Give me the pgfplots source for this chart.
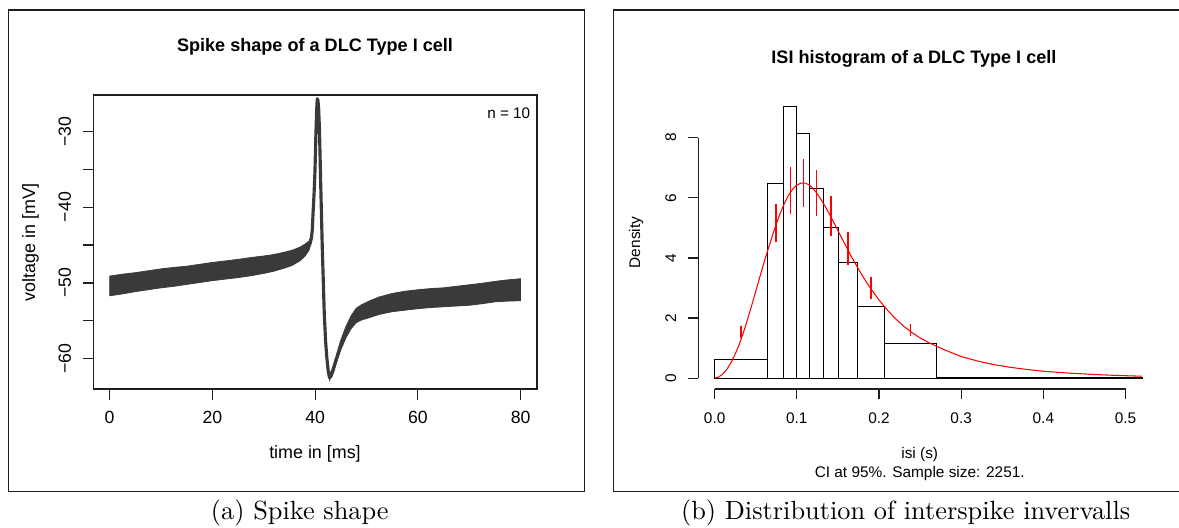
\documentclass[border=0pt]{standalone}
\usepackage{fontspec}
\usepackage{pgfplots}
\pgfplotsset{compat=1.18}
\newfontfamily\rf{Liberation Sans}
\definecolor{tr}{RGB}{58,58,58}
\definecolor{fr}{RGB}{30,30,30}
\begin{document}
\begin{tikzpicture}
\useasboundingbox (0,0) rectangle (448.02pt,200.64pt);
\draw[fr, line width=0.5pt] (3.15pt,13.83pt) rectangle (222.15pt,196.84pt);
\draw[fr, line width=0.5pt] (233.05pt,13.83pt) rectangle (449.5pt,196.84pt);

% ---------------- left panel ----------------
\begin{axis}[
  at={(35.42pt,52.82pt)}, anchor=south west, scale only axis,
  width=168.64pt, height=111.72pt,
  xmin=-3.2, xmax=83.2, ymin=-64.0, ymax=-25.2,
  axis line style={fr, line width=0.45pt},
  tick align=outside, major tick length=4pt,
  tick style={fr, line width=0.45pt},
  xtick pos=bottom, ytick pos=left,
  xtick={0,20,40,60,80}, xticklabels={0,20,40,60,80},
  ytick={-60,-55,-50,-45,-40,-35,-30}, yticklabels={−60,,−50,,−40,,−30},
  xticklabel style={font=\rf\fontsize{6.7}{8}\selectfont, anchor=base, yshift=-9.2pt},
  yticklabel style={font=\rf\fontsize{6.7}{8}\selectfont, xshift=-4.5pt, rotate=90, anchor=base},
]
\addplot[fill=tr, draw=tr, line width=0.3pt] table[x=t,y=v] {
t v
0 -49.1
2.5 -48.85
5 -48.65
7.5 -48.4
10 -48.15
12.5 -47.95
15 -47.8
17.5 -47.55
20 -47.3
22.5 -47.1
25 -46.9
27.5 -46.65
30 -46.45
32 -46.25
34 -45.95
35.5 -45.7
37 -45.3
38 -44.9
38.8 -44.5
39.3 -43.8
39.3 -44.6
38.8 -45.7
38 -46.5
37 -47.1
35.5 -47.7
34 -48.05
32 -48.45
30 -48.75
27.5 -49.05
25 -49.3
22.5 -49.5
20 -49.7
17.5 -49.95
15 -50.2
12.5 -50.45
10 -50.65
7.5 -50.9
5 -51.15
2.5 -51.45
0 -51.7
} -- cycle;
\addplot[fill=tr, draw=tr, line width=0.3pt] table[x=t,y=v] {
t v
42.8 -62.15
43.5 -61.05
44.2 -59.35
45 -57.55
46 -55.75
47 -54.35
48 -53.35
49 -52.9
50.5 -52.4
52.5 -51.85
55 -51.4
57.5 -51.1
60 -50.9
62.5 -50.75
65 -50.65
67.5 -50.45
70 -50.25
72.5 -50.05
75 -49.8
77.5 -49.6
80 -49.45
80 -52.35
77.5 -52.4
75 -52.5
72.5 -52.75
70 -52.95
67.5 -53.05
65 -53.15
62.5 -53.25
60 -53.4
57.5 -53.6
55 -53.8
52.5 -54.15
50.5 -54.6
49 -54.9
48 -55.25
47 -56.05
46 -57.25
45 -58.85
44.2 -60.45
43.5 -61.95
42.8 -62.85
} -- cycle;
\addplot[tr, line width=1.2pt, line join=round] table[x=t,y=v] {
t v
38.8 -45.1
39.1 -44.6
39.3 -44.0
39.45 -43.0
39.6 -40.8
39.8 -38.2
39.96 -35.5
40.15 -30.5
40.3 -27.3
40.42 -25.7
40.55 -25.9
40.7 -27.2
40.85 -29.8
41.07 -36.4
41.39 -45.2
41.78 -54.0
42.05 -57.8
42.3 -60.0
42.55 -61.6
42.8 -62.5
43.1 -62.3
43.5 -61.5
44.2 -59.9
};
\end{axis}

% ---------------- right panel ----------------
\begin{axis}[
  at={(265.32pt,52.82pt)}, anchor=south west, scale only axis,
  width=168.64pt, height=111.72pt,
  xmin=-0.02, xmax=0.52, ymin=-0.36, ymax=9.42,
  axis line style={draw=none}, clip=false,
  tick align=outside, major tick length=3.8pt,
  tick style={fr, line width=0.45pt},
  xtick pos=bottom, ytick pos=left,
  xtick={0,0.1,0.2,0.3,0.4,0.5}, xticklabels={0.0,0.1,0.2,0.3,0.4,0.5},
  ytick={0,2,4,6,8}, yticklabels={0,2,4,6,8},
  xticklabel style={font=\rf\fontsize{5.85}{7}\selectfont, anchor=base, yshift=-9.2pt},
  yticklabel style={font=\rf\fontsize{5.85}{7}\selectfont, xshift=-4.6pt, rotate=90, anchor=base},
]
\draw[fr, line width=0.45pt] (axis cs:0,-0.36) -- (axis cs:0.5,-0.36);
\draw[fr, line width=0.45pt] (axis cs:-0.02,0) -- (axis cs:-0.02,8);
\addplot[ybar interval, draw=black, fill=none, line width=0.4pt] table[x=x,y=y] {
x y
0 0.61
0.0644 6.47
0.0843 9.05
0.1001 8.13
0.1155 6.31
0.1321 5.00
0.1507 3.85
0.1738 2.37
0.2070 1.15
0.2694 0.035
0.52 0
};
\addplot[red, line width=0.4pt] table[x=x,y=y] {
x y
0.000 0.00
0.005 0.04
0.010 0.14
0.015 0.30
0.020 0.52
0.025 0.80
0.030 1.13
0.035 1.52
0.040 1.95
0.045 2.41
0.050 2.89
0.055 3.37
0.060 3.84
0.065 4.29
0.070 4.72
0.075 5.13
0.080 5.50
0.085 5.82
0.090 6.09
0.095 6.29
0.100 6.42
0.105 6.49
0.110 6.49
0.115 6.43
0.120 6.30
0.125 6.13
0.130 5.92
0.135 5.69
0.140 5.44
0.145 5.18
0.150 4.91
0.155 4.64
0.160 4.38
0.165 4.12
0.170 3.87
0.175 3.63
0.180 3.40
0.185 3.18
0.190 2.98
0.200 2.60
0.210 2.27
0.220 1.98
0.230 1.73
0.240 1.52
0.250 1.34
0.260 1.19
0.270 1.06
0.280 0.94
0.290 0.83
0.300 0.72
0.320 0.57
0.340 0.45
0.360 0.36
0.380 0.29
0.400 0.23
0.430 0.17
0.460 0.125
0.490 0.09
0.520 0.065
};
\addplot[red, line width=0.55pt, unbounded coords=jump] table[x=x,y=y] {
x y
0.0322 1.34
0.0322 1.75
0.05 nan
0.0744 4.52
0.0744 5.79
0.08 nan
0.0922 5.46
0.0922 7.01
0.1 nan
0.1080 5.69
0.1080 7.29
0.11 nan
0.1236 5.40
0.1236 6.92
0.13 nan
0.1414 4.73
0.1414 6.06
0.15 nan
0.1622 3.77
0.1622 4.85
0.17 nan
0.1904 2.63
0.1904 3.38
0.2 nan
0.2382 1.39
0.2382 1.79
};
\end{axis}

% ---------------- texts ----------------
\node[anchor=base, font=\rf\bfseries\fontsize{6.87}{8}\selectfont] at (119.70pt,181.00pt) {Spike shape of a DLC Type I cell};
\node[anchor=base, font=\rf\bfseries\fontsize{6.87}{8}\selectfont] at (347.30pt,176.51pt) {ISI histogram of a DLC Type I cell};
\node[anchor=base, font=\rf\fontsize{6.8}{8}\selectfont] at (119.70pt,26.45pt) {time in [ms]};
\node[anchor=base, rotate=90, font=\rf\fontsize{6.8}{8}\selectfont] at (13.34pt,108.6pt) {voltage in [mV]};
\node[anchor=base east, inner sep=0pt, font=\rf\fontsize{5.8}{7}\selectfont] at (201.67pt,155.5pt) {n = 10};
\node[anchor=base, font=\rf\fontsize{5.85}{7}\selectfont] at (349.5pt,26.33pt) {isi (s)};
\node[anchor=base, font=\rf\fontsize{5.85}{7}\selectfont] at (349.5pt,19.30pt) {CI at 95\%. Sample size: 2251.};
\node[anchor=base, rotate=90, font=\rf\fontsize{5.85}{7}\selectfont] at (243.2pt,108.5pt) {Density};
\node[anchor=base, font=\fontsize{10}{12}\selectfont] at (113.92pt,3.04pt) {(a) Spike shape};
\node[anchor=base, font=\fontsize{10}{12}\selectfont] at (344.13pt,3.04pt) {(b) Distribution of interspike invervalls};
\end{tikzpicture}
\end{document}
